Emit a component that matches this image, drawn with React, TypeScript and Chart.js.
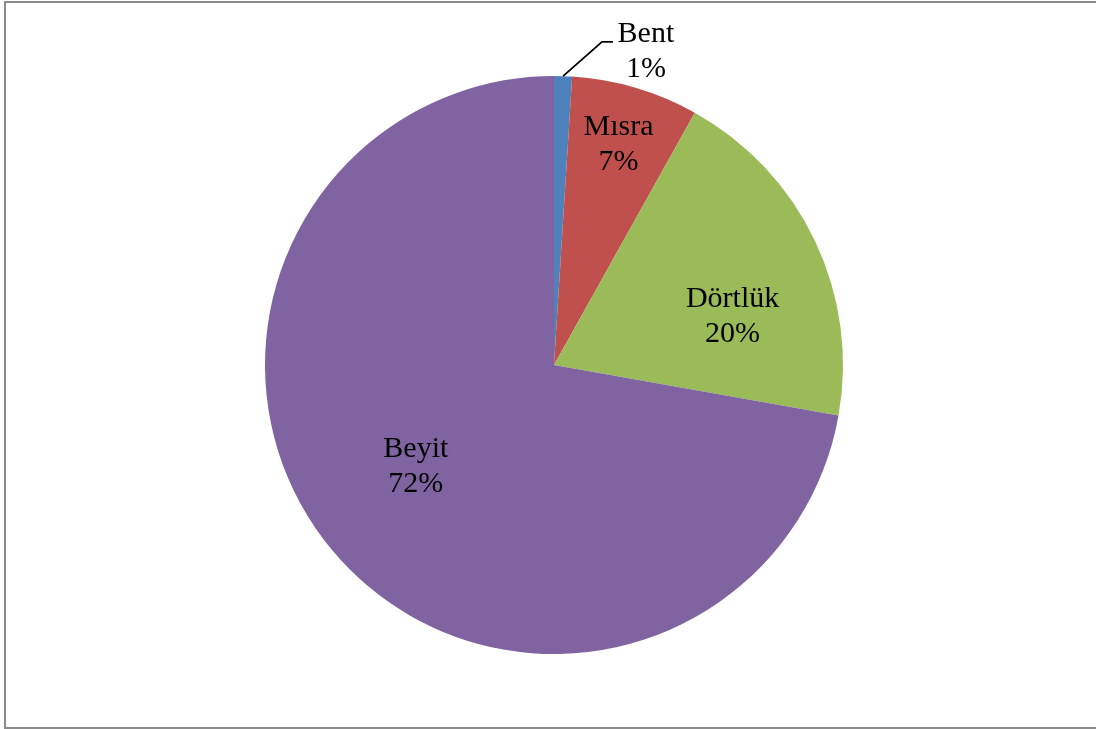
import React, { useEffect, useRef } from "react";
import { Chart, registerables } from "chart.js";

Chart.register(...registerables);

const categories = ["Bent", "Mısra", "Dörtlük", "Beyit"];
const values = [1.0, 7.1, 19.7, 72.2];
const colors = ["#4F81BD", "#C0504D", "#9BBB59", "#8064A2"];

// label placement relative to pie centre, as fractions of the radius (first baseline)
const labelPlacement = [
  { fx: 0.318, fy: -1.118, leader: true },
  { fx: 0.223, fy: -0.796, leader: false },
  { fx: 0.618, fy: -0.201, leader: false },
  { fx: -0.478, fy: 0.318, leader: false },
];

const W = 1096;
const H = 729;

const labelPlugin = {
  id: "pieLabels",
  afterDatasetsDraw(chart: any) {
    const ctx = chart.ctx;
    const meta = chart.getDatasetMeta(0);
    const data = chart.data.datasets[0].data as number[];
    const total = data.reduce((a, b) => a + b, 0);
    ctx.save();
    ctx.font = '30px "Liberation Serif", "Times New Roman", serif';
    ctx.fillStyle = "#000";
    ctx.textAlign = "center";
    ctx.textBaseline = "alphabetic";
    meta.data.forEach((arc: any, i: number) => {
      const p = arc.getProps(["x", "y", "outerRadius", "startAngle", "endAngle"], true);
      const R = p.outerRadius;
      const pl = labelPlacement[i];
      const x = p.x + pl.fx * R;
      const y = p.y + pl.fy * R;
      const pct = Math.round((data[i] / total) * 100) + "%";
      ctx.fillText(categories[i], x, y);
      ctx.fillText(pct, x, y + 35);
      if (pl.leader) {
        const mid = (p.startAngle + p.endAngle) / 2;
        const sx = p.x + Math.cos(mid) * R;
        const sy = p.y + Math.sin(mid) * R;
        ctx.beginPath();
        ctx.strokeStyle = "#000";
        ctx.lineWidth = 1.8;
        ctx.moveTo(sx, sy);
        ctx.lineTo(p.x + 0.166 * R, y);
        ctx.lineTo(p.x + 0.204 * R, y);
        ctx.stroke();
      }
    });
    ctx.restore();
  },
};

export default function App() {
  const ref = useRef<HTMLCanvasElement | null>(null);
  useEffect(() => {
    document.body.style.margin = "0";
    const chart = new Chart(ref.current!, {
      type: "pie",
      data: {
        labels: categories,
        datasets: [
          {
            data: values,
            backgroundColor: colors,
            borderWidth: 0,
          },
        ],
      },
      options: {
        responsive: false,
        animation: false,
        layout: { padding: { top: 76, bottom: 75, left: 265, right: 253 } },
        plugins: {
          legend: { display: false },
          tooltip: { enabled: false },
        },
      },
      plugins: [labelPlugin],
    });
    return () => chart.destroy();
  }, []);
  return (
    <div style={{ position: "fixed", left: 0, top: 0, width: W, height: H, background: "#fff" }}>
      <canvas ref={ref} width={W} height={H} style={{ position: "absolute", left: 0, top: 0 }} />
      <div
        style={{
          position: "absolute",
          left: 4,
          top: 1,
          width: W + 10,
          height: 728,
          borderLeft: "2px solid #8a8a8a",
          borderTop: "2px solid #8a8a8a",
          borderBottom: "2px solid #8a8a8a",
          boxSizing: "border-box",
          pointerEvents: "none",
        }}
      />
    </div>
  );
}
